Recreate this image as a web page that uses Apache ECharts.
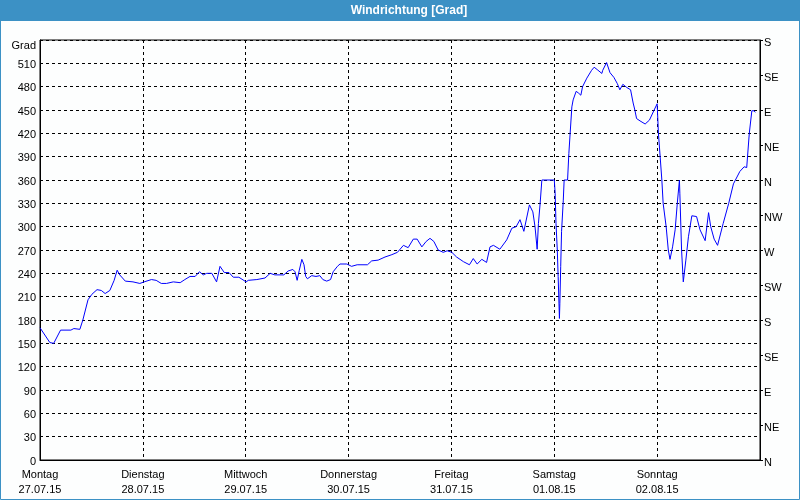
<!DOCTYPE html>
<html>
<head>
<meta charset="utf-8">
<script src="https://cdn.jsdelivr.net/npm/echarts@6/dist/echarts.min.js"></script>
<style>
html,body{margin:0;padding:0;background:#fdfefe;}
#chart{width:800px;height:500px;}
</style>
</head>
<body>
<div id="chart"></div>
<script>
// Day labels at day boundaries (hours 0,24,...,144)
var dayNames = ["Montag","Dienstag","Mittwoch","Donnerstag","Freitag","Samstag","Sonntag"];
var dayDates = ["27.07.15","28.07.15","29.07.15","30.07.15","31.07.15","01.08.15","02.08.15"];
// Compass labels for right axis (every 45 degrees from 0 to 540)
var compassLabels = ["N","NE","E","SE","S","SW","W","NW","N","NE","E","SE","S"];
// Time in hours since Monday 00:00
var hours = [0,2.3,3.2,4.8,7.2,7.9,9.3,10.0,11.2,12.1,13.3,14.3,15.2,16.3,17.3,18.0,18.6,19.9,21.7,23.3,24.3,26.0,27.1,28.3,29.5,
29.9,31.1,32.7,33.8,35.0,36.2,37.2,38.1,38.9,40.1,41.2,42.0,43.0,44.1,45.1,46.4,48.1,48.6,50.6,52.5,53.7,54.8,56.9,
57.9,59.0,59.5,60.0,60.5,61.1,61.6,62.0,62.4,63.4,64.4,65.3,66.0,66.9,67.8,68.4,69.4,70.0,71.6,72.7,74.0,76.4,77.4,78.9,80.5,82.1,83.4,84.8,85.9,87.1,88.0,
89.1,90.1,91.0,91.9,92.9,94.1,95.0,96.1,97.2,98.8,100.2,101.1,102.0,103.1,104.2,105.0,105.8,107.3,108.9,110.1,111.1,112.0,112.9,114.2,115.0,115.5,116.0,116.3,116.7,117.1,
120.0,120.2,120.4,120.7,120.9,121.2,121.3,121.5,121.7,122.1,122.3,123.1,123.4,123.7,124.1,124.4,125.1,125.6,126.2,126.6,127.6,128.7,129.3,130.0,131.1,
131.3,132.2,133.0,133.9,134.7,135.3,136.0,136.9,137.8,138.4,138.8,139.2,140.0,141.2,142.2,143.3,144.0,144.3,144.7,145.1,145.4,146.1,146.6,147.0,147.6,148.2,148.7,149.2,149.3,149.7,150.1,150.7,151.3,152.1,153.2,154.0,155.2,156.0,156.5,157.3,158.1,159.4,160.7,161.8,163.3,164.3,164.9,165.5,166.1,166.6,166.9];
// Wind direction in degrees
var degrees = [170,151,150,167,167,169,168,180,206,213,219,218,214,218,231,244,238,230,229,227,229,232,231,227,227,
225,229,228,232,236,236,242,238,240,240,229,249,241,241,235,235,229,231,232,234,240,238,238,
243,245,242,231,244,258,251,236,233,237,236,237,232,230,232,242,249,252,252,249,251,251,256,257,261,264,267,276,273,284,284,
274,281,285,281,270,267,269,267,261,255,251,259,252,258,254,274,276,271,283,298,300,309,294,328,319,300,271,304,330,360,
360,343,304,270,236,182,201,249,294,334,360,360,394,420,454,463,474,472,469,480,491,501,505,502,497,
501,511,498,492,484,476,483,479,476,459,450,439,436,432,437,450,458,420,390,360,330,300,270,258,274,296,330,360,343,270,229,257,287,314,313,296,282,318,300,284,276,304,330,355,371,377,376,420,449,449,447];

var seriesData = hours.map(function(h,i){return [h, degrees[i]];});

var chart = echarts.init(document.getElementById('chart'), null, {renderer:'canvas'});
var FONT = 'Liberation Sans';
var dash = {color:'#000', width:1, type:[3,3]};
chart.setOption({
  backgroundColor:'#fdfefe',
  animation:false,
  graphic:[
    {type:'rect', shape:{x:0,y:0,width:800,height:21}, style:{fill:'#3c91c5'}, z:10},
    {type:'text', x:409, y:11, style:{text:'Windrichtung [Grad]', fill:'#fff', font:'bold 12px "Liberation Sans"', align:'center', verticalAlign:'middle'}, z:11},
    {type:'rect', shape:{x:0.5,y:0.5,width:799,height:499}, style:{fill:null, stroke:'#3c91c5', lineWidth:1}, z:10}
  ],
  grid:{left:40, right:40, top:40, bottom:40, show:true, borderColor:'#000', borderWidth:1, backgroundColor:'transparent'},
  xAxis:{
    type:'value', min:0, max:168, interval:24,
    axisLine:{show:true, lineStyle:{color:'#000', width:1}},
    axisTick:{show:false},
    splitLine:{show:true, lineStyle:dash},
    axisLabel:{
      color:'#000', fontFamily:FONT, fontSize:11, lineHeight:15, margin:7,
      showMaxLabel:false,
      formatter:function(v){var i=Math.round(v/24); if(i>=dayNames.length) return ''; return dayNames[i]+'\n'+dayDates[i];}
    }
  },
  yAxis:[
    {
      type:'value', min:0, max:540, interval:30, position:'left',
      axisLine:{show:true, lineStyle:{color:'#000', width:1}},
      axisTick:{show:false},
      splitLine:{show:true, lineStyle:dash},
      axisLabel:{
        color:'#000', fontFamily:FONT, fontSize:11, margin:4,
        formatter:function(v){ if(v===540) return '{g|Grad}'; return '{n|' + v + '}'; },
        rich:{
          g:{color:'#000', fontFamily:FONT, fontSize:11, padding:[11,0,0,0]},
          n:{color:'#000', fontFamily:FONT, fontSize:11, padding:[3,0,0,0]}
        }
      }
    },
    {
      type:'value', min:0, max:540, interval:45, position:'right',
      axisLine:{show:true, lineStyle:{color:'#000', width:1}},
      axisTick:{show:true, inside:false, length:3, lineStyle:{color:'#000'}},
      splitLine:{show:false},
      axisLabel:{
        color:'#000', fontFamily:FONT, fontSize:11, margin:4,
        formatter:function(v){ return '{c|' + compassLabels[Math.round(v/45)] + '}'; },
        rich:{c:{color:'#000', fontFamily:FONT, fontSize:11, padding:[5,0,0,0]}}
      }
    }
  ],
  series:[{
    type:'line', data:seriesData, yAxisIndex:0,
    showSymbol:false, symbol:'none', smooth:false,
    lineStyle:{color:'#0000ff', width:1}
  }]
});
</script>
</body>
</html>
